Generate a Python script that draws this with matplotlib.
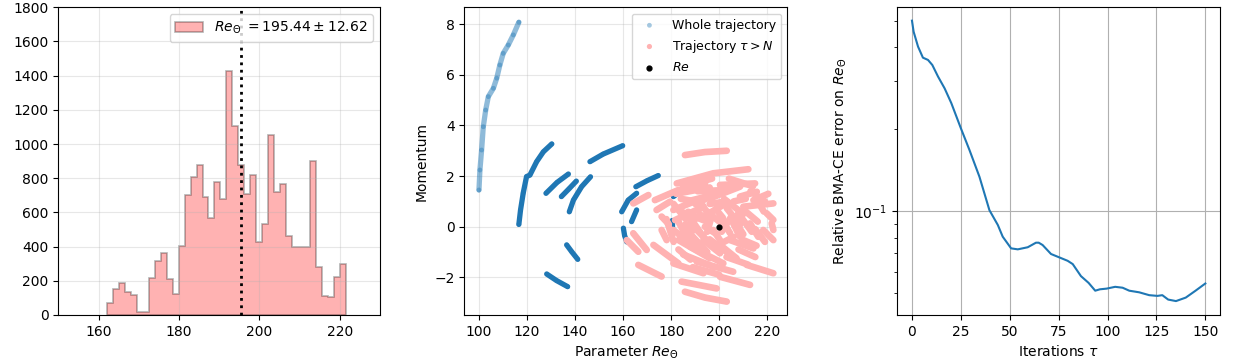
import numpy as np
import matplotlib
matplotlib.use("Agg")
import matplotlib.pyplot as plt
from matplotlib.ticker import NullFormatter

# ---------------- data ----------------
# Histogram (left)
hist_lo = 162.1
hist_hi = 221.5
hist_counts = [70, 150, 185, 135, 115, 20, 20, 215, 315, 360,
               210, 125, 405, 700, 810, 875, 690, 565, 780, 680,
               1430, 1105, 880, 705, 820, 425, 535, 1055, 720, 765,
               460, 400, 395, 395, 900, 280, 110, 105, 225, 300]
re_mean = 195.44
re_std = 12.62

# Phase-space trajectory (middle) : vertices of each trajectory segment
blue_light = [(100.0, 1.45), (100.4, 2.24), (101.1, 3.03), (101.8, 3.95), (102.8, 4.61),
              (103.9, 5.14), (106.0, 5.47), (107.4, 5.87), (108.7, 6.39), (110.1, 6.85),
              (112.2, 7.18), (114.3, 7.58), (116.6, 8.08)]
blue_strokes = [
    [(116.6, 0.09), (117.3, 0.66), (118.4, 1.32), (119.8, 1.98), (121.2, 2.04),
     (124.0, 2.57), (126.8, 2.96), (130.3, 3.27)],
    [(127.9, 1.32), (132.5, 1.75), (137.2, 2.08)],
    [(134.3, 1.19), (137.5, 1.50), (140.5, 1.80)],
    [(137.6, 0.59), (139.3, 1.05), (142.7, 1.58), (146.4, 1.97)],
    [(146.2, 2.57), (151.7, 2.87), (159.8, 3.20)],
    [(136.5, -0.72), (138.6, -0.99), (141.1, -1.29)],
    [(128.2, -1.87), (132.3, -2.13), (136.9, -2.37)],
    [(165.3, 1.58), (170.0, 1.82), (174.6, 2.02)],
    [(159.4, 0.59), (162.1, 1.05), (165.6, 1.32)],
    [(163.5, 0.20), (165.6, 0.66)],
    [(160.1, -0.06), (160.6, -0.35), (161.5, -0.60)],
    [(180.9, 1.19), (184.0, 1.40), (187.8, 1.55)],
    [(180.2, 0.25), (180.2, -0.15)],
]
pink_strokes = [
    [(185.7, 2.83), (194.0, 2.95), (203.1, 3.00)],
    [(182.3, 1.71), (197.5, 2.11), (212.1, 2.27)],
    [(173.2, 1.05), (183.0, 1.45), (194.1, 1.71)],
    [(200.3, 1.65), (214.9, 1.71)],
    [(208.6, 1.19), (215.6, 1.38)],
    [(210.0, 0.79), (222.5, 0.92)],
    [(219.7, 0.53), (222.5, 0.27)],
    [(221.8, 0.13), (222.5, -0.13)],
    [(218.3, -0.13), (222.5, -0.53)],
    [(211.4, -1.51), (222.5, -1.84)],
    [(200.3, -1.98), (212.8, -2.30)],
    [(184.3, -2.17), (198.9, -2.44)],
    [(185.7, -2.57), (194.0, -2.80), (203.1, -2.96)],
    [(166.3, -1.51), (176.0, -1.97)],
    [(172.6, -0.72), (183.0, -1.45)],
    [(164.2, -0.26), (169.8, -0.92)],
    [(161.5, -0.53), (166.3, -0.99)],
    [(164.2, 0.92), (170.5, 1.25)],
    [(176.0, -0.13), (178.1, -0.53)],
    [(173.9, 0.66), (179.5, 0.99)],
    [(180.9, -1.45), (193.4, -1.84)],
    [(190.6, -1.38), (205.8, -1.78)],
    [(180.9, 0.66), (196.1, 1.25)],
    [(181.6, 0.26), (193.4, 0.79)],
    [(180.9, -0.13), (190.6, -0.86)],
    [(183.0, -0.53), (196.1, -1.25)],
    [(187.8, -0.79), (201.7, -1.45)],
    [(190.6, -0.13), (197.5, -0.79)],
    [(193.4, 0.40), (201.7, 0.86)],
    [(196.1, 1.12), (208.6, 1.58)],
    [(200.3, 0.40), (204.5, -0.26)],
    [(203.1, 0.73), (208.6, 0.07)],
    [(204.5, -0.53), (214.2, -0.86)],
    [(207.9, 0.53), (213.5, -0.20)],
    [(200.3, -0.72), (207.2, -1.25)],
    [(187.1, 0.59), (189.2, -0.13)],
    [(183.0, 0.20), (187.1, -0.53)],
    [(188.5, 0.26), (193.4, -0.40)],
    [(193.4, -0.53), (200.3, -1.05)],
    [(210.0, -0.53), (215.5, -0.75)],
    [(212.8, 0.13), (216.2, -0.40)],
    [(197.5, -0.13), (200.3, -0.53)],
    [(186.4, 0.99), (194.7, 1.19)],
    [(205.8, 0.13), (208.6, -0.40)],
    [(214.2, 1.05), (220.4, 1.30)],
    [(184.0, 1.10), (190.0, 1.00)],
    [(195.0, -0.20), (196.5, 0.30)],
    [(206.0, 1.00), (211.0, 1.10)],
    [(178.0, 0.30), (181.0, -0.60)],
    [(182.0, 1.30), (196.0, 1.55)],
    [(184.0, 0.60), (195.0, 0.20)],
    [(185.0, -1.10), (198.0, -1.60)],
    [(188.0, -0.30), (195.0, -1.00)],
    [(190.0, 0.90), (200.0, 1.35)],
    [(195.0, 0.60), (200.0, 0.20)],
    [(196.0, -0.50), (203.0, -1.00)],
    [(202.0, 1.10), (210.0, 0.50)],
    [(203.0, -1.20), (212.0, -1.50)],
    [(206.0, 0.30), (210.0, -0.30)],
    [(208.0, -0.90), (215.0, -1.20)],
    [(211.0, 0.60), (216.0, 0.20)],
    [(213.0, 1.40), (219.0, 1.00)],
    [(215.0, -0.10), (219.0, -0.60)],
    [(183.0, -0.90), (188.0, -1.30)],
    [(181.0, 0.90), (186.0, 0.30)],
    [(192.0, 1.00), (196.0, 0.40)],
    [(185.0, 1.60), (197.0, 1.90)],
    [(204.0, 1.90), (214.0, 1.60)],
    [(198.5, 0.70), (201.5, 0.35)],
    [(176.0, 0.40), (179.0, 0.10)],
    [(189.0, -1.60), (200.0, -1.90)],
    [(216.0, 1.00), (218.5, 0.60)],
    [(185.0, -0.20), (192.0, 0.50)],
    [(194.0, 0.00), (199.0, -0.30)],
    [(201.0, -0.20), (205.0, 0.40)],
    [(186.0, 0.10), (190.0, -0.60)],
    [(196.0, 0.90), (203.0, 1.00)],
    [(202.0, -0.60), (206.0, -0.40)],
    [(191.0, 1.40), (203.0, 1.45)],
]
re_true = (200.0, 0.0)

# Error curve (right)
iters = [0, 0.85, 3.1, 5.6, 8.2, 10.4, 13.3, 16.7, 20.1, 25, 29.4, 34.5, 39.6,
         43.9, 46.4, 50.7, 54.1, 59.2, 63.4, 64.8, 66.8, 71.1, 75.4, 79.6, 82.2,
         86.4, 90.3, 93.7, 96.1, 99.5, 103.9, 107.7, 111.1, 116.2, 121.3, 125.5,
         128, 131, 135, 140, 145, 150]
rel_err = [0.502, 0.457, 0.403, 0.367, 0.360, 0.345, 0.313, 0.283, 0.250, 0.202,
           0.168, 0.134, 0.101, 0.0891, 0.0807, 0.0731, 0.0725, 0.0738, 0.0767,
           0.0767, 0.0752, 0.0697, 0.0677, 0.0658, 0.0640, 0.0578, 0.0546, 0.0511,
           0.0517, 0.0520, 0.0528, 0.0524, 0.0511, 0.0504, 0.0492, 0.0489, 0.0492,
           0.0474, 0.0468, 0.0482, 0.0511, 0.0543]

# ---------------- figure ----------------
fig = plt.figure(figsize=(12.33, 3.59), dpi=100)
W, H = 1233, 359
def axbox(l, r, t=7.3, b=315):
    return [l / W, 1 - b / H, (r - l) / W, (b - t) / H]

ax1 = fig.add_axes(axbox(58.3, 380))
ax2 = fig.add_axes(axbox(464.3, 787.3))
ax3 = fig.add_axes(axbox(897.3, 1220))

# Left: histogram
edges = np.linspace(hist_lo, hist_hi, len(hist_counts) + 1)
centers = 0.5 * (edges[:-1] + edges[1:])
ax1.hist(centers, bins=edges, weights=hist_counts, histtype='stepfilled',
         color='r', alpha=0.3, edgecolor='k', linewidth=1.2,
         label=r'$Re_\Theta$ ' + r'$= %.2f \pm %.2f$' % (re_mean, re_std))
ax1.axvline(re_mean, color='k', linestyle=':', linewidth=2)
ax1.set_xlim(150, 230)
ax1.set_ylim(0, 1800)
ax1.set_xticks([160, 180, 200, 220])
ax1.set_yticks(range(0, 1801, 200))
ax1.grid(alpha=0.3)
ax1.legend(loc='upper right')

# Middle: trajectory
blue = '#1f77b4'
pink = '#ffb2b2'
lw = 3.8
bl = np.array(blue_light)
ax2.plot(bl[:, 0], bl[:, 1], color=blue, alpha=0.5, lw=lw, solid_capstyle='round', zorder=2)
for s in blue_strokes:
    a = np.array(s)
    ax2.plot(a[:, 0], a[:, 1], color=blue, lw=lw, solid_capstyle='round', zorder=2)
allblue = np.array(blue_light + [p for s in blue_strokes for p in s])
ax2.scatter(allblue[:, 0], allblue[:, 1], s=12, color=blue, alpha=0.4,
            edgecolors='none', label='Whole trajectory', zorder=2.5)
for s in pink_strokes:
    a = np.array(s)
    ax2.plot(a[:, 0], a[:, 1], color=pink, lw=4.8, solid_capstyle='round', zorder=3)
allpink = np.array([p for s in pink_strokes for p in s])
ax2.scatter(allpink[:, 0], allpink[:, 1], s=14, color=pink, edgecolors='none',
            label=r'Trajectory $\tau > N$', zorder=3.5)
ax2.scatter([re_true[0]], [re_true[1]], s=12, color='k', label=r'$Re$', zorder=4)
ax2.set_xlim(93.9, 228.3)
ax2.set_ylim(-3.49, 8.67)
ax2.set_xticks([100, 120, 140, 160, 180, 200, 220])
ax2.set_yticks([-2, 0, 2, 4, 6, 8])
ax2.grid(alpha=0.3)
ax2.set_xlabel(r'Parameter $Re_\Theta$')
ax2.set_ylabel('Momentum')
ax2.legend(loc='upper right', fontsize=9)

# Right: error curve
ax3.plot(iters, rel_err, color=blue, lw=1.5)
ax3.set_yscale('log')
ax3.set_xlim(-7.5, 157.5)
ax3.set_ylim(0.0416, 0.562)
ax3.set_xticks([0, 25, 50, 75, 100, 125, 150])
ax3.yaxis.set_minor_formatter(NullFormatter())
ax3.grid(True)
ax3.set_xlabel(r'Iterations $\tau$')
ax3.set_ylabel(r'Relative BMA-CE error on $Re_\Theta$')

fig.savefig('out.png', dpi=100)
